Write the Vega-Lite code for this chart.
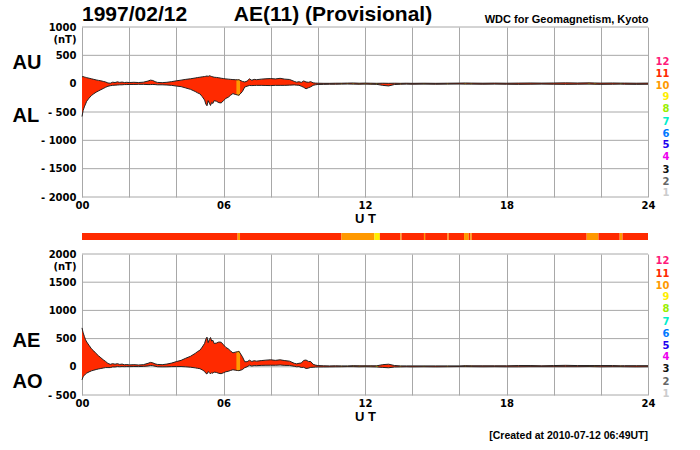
{
  "$schema": "https://vega.github.io/schema/vega-lite/v6.json",
  "background": "white",
  "padding": {"left": 12, "top": 4, "right": 5, "bottom": 5},
  "config": {
    "view": {"stroke": null},
    "font": "Liberation Sans",
    "axis": {"labelFont": "DejaVu Sans", "labelFontWeight": "bold", "labelFontSize": 10, "labelColor": "#000", "labelOverlap": false, "ticks": false, "domain": false, "gridColor": "#a8a8a8", "gridWidth": 1, "gridOpacity": 1, "titleFont": "Liberation Sans", "titleFontWeight": "bold", "titleColor": "#000"}
  },
  "datasets": {
    "ae": [
      {"t":0,"AU":120,"AL":-580,"AE":690,"AO":-230,"n":11},
      {"t":0.05,"AU":125,"AL":-470,"AE":600,"AO":-175,"n":11},
      {"t":0.1,"AU":118,"AL":-410,"AE":540,"AO":-150,"n":11},
      {"t":0.15,"AU":112,"AL":-360,"AE":480,"AO":-128,"n":11},
      {"t":0.2,"AU":106,"AL":-310,"AE":440,"AO":-112,"n":11},
      {"t":0.3,"AU":96,"AL":-255,"AE":380,"AO":-90,"n":11},
      {"t":0.4,"AU":86,"AL":-210,"AE":320,"AO":-72,"n":11},
      {"t":0.5,"AU":76,"AL":-178,"AE":280,"AO":-60,"n":11},
      {"t":0.6,"AU":66,"AL":-150,"AE":235,"AO":-48,"n":11},
      {"t":0.7,"AU":58,"AL":-128,"AE":195,"AO":-38,"n":11},
      {"t":0.8,"AU":50,"AL":-106,"AE":160,"AO":-30,"n":11},
      {"t":0.9,"AU":40,"AL":-86,"AE":125,"AO":-22,"n":11},
      {"t":1.0,"AU":30,"AL":-64,"AE":95,"AO":-14,"n":11},
      {"t":1.1,"AU":12,"AL":-46,"AE":60,"AO":-14,"n":11},
      {"t":1.2,"AU":8,"AL":-36,"AE":44,"AO":-14,"n":11},
      {"t":1.3,"AU":26,"AL":-30,"AE":56,"AO":-2,"n":11},
      {"t":1.4,"AU":20,"AL":-26,"AE":46,"AO":-3,"n":11},
      {"t":1.5,"AU":32,"AL":-24,"AE":56,"AO":4,"n":11},
      {"t":1.6,"AU":22,"AL":-20,"AE":42,"AO":1,"n":11},
      {"t":1.7,"AU":28,"AL":-20,"AE":48,"AO":4,"n":11},
      {"t":1.8,"AU":20,"AL":-16,"AE":36,"AO":2,"n":11},
      {"t":1.9,"AU":24,"AL":-16,"AE":40,"AO":4,"n":11},
      {"t":2.0,"AU":20,"AL":-14,"AE":34,"AO":3,"n":11},
      {"t":2.2,"AU":24,"AL":-14,"AE":38,"AO":5,"n":11},
      {"t":2.4,"AU":20,"AL":-12,"AE":32,"AO":4,"n":11},
      {"t":2.6,"AU":26,"AL":-12,"AE":38,"AO":7,"n":11},
      {"t":2.8,"AU":46,"AL":-16,"AE":62,"AO":15,"n":11},
      {"t":2.9,"AU":62,"AL":-16,"AE":78,"AO":23,"n":11},
      {"t":3.0,"AU":56,"AL":-14,"AE":70,"AO":21,"n":11},
      {"t":3.1,"AU":36,"AL":-16,"AE":52,"AO":10,"n":11},
      {"t":3.2,"AU":22,"AL":-20,"AE":42,"AO":1,"n":11},
      {"t":3.4,"AU":18,"AL":-20,"AE":38,"AO":-1,"n":11},
      {"t":3.6,"AU":24,"AL":-24,"AE":48,"AO":0,"n":11},
      {"t":3.8,"AU":36,"AL":-30,"AE":66,"AO":3,"n":11},
      {"t":4.0,"AU":50,"AL":-42,"AE":92,"AO":4,"n":11},
      {"t":4.2,"AU":62,"AL":-52,"AE":114,"AO":5,"n":11},
      {"t":4.4,"AU":76,"AL":-76,"AE":152,"AO":0,"n":11},
      {"t":4.6,"AU":86,"AL":-100,"AE":186,"AO":-7,"n":11},
      {"t":4.8,"AU":100,"AL":-138,"AE":238,"AO":-19,"n":11},
      {"t":4.9,"AU":108,"AL":-162,"AE":270,"AO":-27,"n":11},
      {"t":5.0,"AU":114,"AL":-180,"AE":294,"AO":-33,"n":11},
      {"t":5.1,"AU":120,"AL":-230,"AE":350,"AO":-55,"n":11},
      {"t":5.2,"AU":126,"AL":-290,"AE":416,"AO":-82,"n":11},
      {"t":5.25,"AU":130,"AL":-360,"AE":490,"AO":-115,"n":11},
      {"t":5.3,"AU":136,"AL":-390,"AE":526,"AO":-127,"n":11},
      {"t":5.35,"AU":128,"AL":-300,"AE":428,"AO":-86,"n":11},
      {"t":5.4,"AU":140,"AL":-345,"AE":485,"AO":-103,"n":11},
      {"t":5.45,"AU":134,"AL":-385,"AE":519,"AO":-126,"n":11},
      {"t":5.5,"AU":126,"AL":-330,"AE":456,"AO":-102,"n":11},
      {"t":5.55,"AU":120,"AL":-350,"AE":470,"AO":-115,"n":11},
      {"t":5.6,"AU":114,"AL":-300,"AE":414,"AO":-93,"n":11},
      {"t":5.7,"AU":110,"AL":-310,"AE":420,"AO":-100,"n":11},
      {"t":5.8,"AU":104,"AL":-335,"AE":439,"AO":-116,"n":11},
      {"t":5.9,"AU":96,"AL":-340,"AE":436,"AO":-122,"n":11},
      {"t":6.0,"AU":90,"AL":-300,"AE":390,"AO":-105,"n":11},
      {"t":6.1,"AU":84,"AL":-260,"AE":344,"AO":-88,"n":11},
      {"t":6.2,"AU":80,"AL":-240,"AE":320,"AO":-80,"n":11},
      {"t":6.3,"AU":76,"AL":-205,"AE":281,"AO":-65,"n":11},
      {"t":6.4,"AU":72,"AL":-175,"AE":247,"AO":-52,"n":11},
      {"t":6.5,"AU":70,"AL":-190,"AE":260,"AO":-60,"n":11},
      {"t":6.6,"AU":68,"AL":-200,"AE":268,"AO":-66,"n":10},
      {"t":6.65,"AU":70,"AL":-205,"AE":275,"AO":-68,"n":10},
      {"t":6.7,"AU":60,"AL":-185,"AE":245,"AO":-63,"n":11},
      {"t":6.8,"AU":40,"AL":-140,"AE":180,"AO":-50,"n":11},
      {"t":6.9,"AU":30,"AL":-60,"AE":90,"AO":-15,"n":11},
      {"t":7.0,"AU":45,"AL":-45,"AE":90,"AO":0,"n":11},
      {"t":7.1,"AU":85,"AL":-32,"AE":117,"AO":27,"n":11},
      {"t":7.2,"AU":60,"AL":-34,"AE":94,"AO":13,"n":11},
      {"t":7.3,"AU":76,"AL":-32,"AE":108,"AO":22,"n":11},
      {"t":7.4,"AU":70,"AL":-30,"AE":100,"AO":20,"n":11},
      {"t":7.6,"AU":80,"AL":-30,"AE":110,"AO":25,"n":11},
      {"t":7.8,"AU":86,"AL":-32,"AE":118,"AO":27,"n":11},
      {"t":8.0,"AU":90,"AL":-34,"AE":124,"AO":28,"n":11},
      {"t":8.2,"AU":84,"AL":-30,"AE":114,"AO":27,"n":11},
      {"t":8.4,"AU":94,"AL":-30,"AE":124,"AO":32,"n":11},
      {"t":8.6,"AU":80,"AL":-30,"AE":110,"AO":25,"n":11},
      {"t":8.8,"AU":74,"AL":-26,"AE":100,"AO":24,"n":11},
      {"t":9.0,"AU":40,"AL":-22,"AE":62,"AO":9,"n":11},
      {"t":9.1,"AU":26,"AL":-26,"AE":52,"AO":0,"n":11},
      {"t":9.2,"AU":34,"AL":-28,"AE":62,"AO":3,"n":11},
      {"t":9.3,"AU":22,"AL":-45,"AE":67,"AO":-12,"n":11},
      {"t":9.4,"AU":48,"AL":-65,"AE":113,"AO":-9,"n":11},
      {"t":9.5,"AU":30,"AL":-90,"AE":120,"AO":-30,"n":11},
      {"t":9.6,"AU":24,"AL":-72,"AE":96,"AO":-24,"n":11},
      {"t":9.7,"AU":36,"AL":-56,"AE":92,"AO":-10,"n":11},
      {"t":9.8,"AU":14,"AL":-30,"AE":44,"AO":-8,"n":11},
      {"t":9.9,"AU":10,"AL":-20,"AE":30,"AO":-5,"n":11},
      {"t":10.0,"AU":8,"AL":-14,"AE":22,"AO":-3,"n":11},
      {"t":10.25,"AU":6,"AL":-12,"AE":18,"AO":-3,"n":11},
      {"t":10.5,"AU":6,"AL":-10,"AE":16,"AO":-2,"n":11},
      {"t":10.75,"AU":8,"AL":-10,"AE":18,"AO":-1,"n":11},
      {"t":11.0,"AU":8,"AL":-8,"AE":16,"AO":0,"n":10},
      {"t":11.25,"AU":10,"AL":-6,"AE":16,"AO":2,"n":10},
      {"t":11.5,"AU":12,"AL":-8,"AE":20,"AO":2,"n":10},
      {"t":11.75,"AU":8,"AL":-10,"AE":18,"AO":-1,"n":10},
      {"t":12.0,"AU":10,"AL":-8,"AE":18,"AO":1,"n":10},
      {"t":12.25,"AU":8,"AL":-10,"AE":18,"AO":-1,"n":10},
      {"t":12.5,"AU":6,"AL":-12,"AE":18,"AO":-3,"n":9},
      {"t":12.75,"AU":8,"AL":-30,"AE":38,"AO":-11,"n":11},
      {"t":13.0,"AU":6,"AL":-40,"AE":46,"AO":-17,"n":11},
      {"t":13.25,"AU":8,"AL":-15,"AE":23,"AO":-4,"n":11},
      {"t":13.5,"AU":6,"AL":-10,"AE":16,"AO":-2,"n":10},
      {"t":13.75,"AU":8,"AL":-8,"AE":16,"AO":0,"n":11},
      {"t":14.0,"AU":6,"AL":-10,"AE":16,"AO":-2,"n":11},
      {"t":14.5,"AU":8,"AL":-8,"AE":16,"AO":0,"n":10},
      {"t":15.0,"AU":6,"AL":-10,"AE":16,"AO":-2,"n":11},
      {"t":15.5,"AU":8,"AL":-8,"AE":16,"AO":0,"n":10},
      {"t":16.0,"AU":10,"AL":-6,"AE":16,"AO":2,"n":11},
      {"t":16.25,"AU":12,"AL":-8,"AE":20,"AO":2,"n":10},
      {"t":16.5,"AU":10,"AL":-8,"AE":18,"AO":1,"n":10},
      {"t":17.0,"AU":8,"AL":-10,"AE":18,"AO":-1,"n":11},
      {"t":17.5,"AU":10,"AL":-8,"AE":18,"AO":1,"n":11},
      {"t":18.0,"AU":8,"AL":-10,"AE":18,"AO":-1,"n":11},
      {"t":18.5,"AU":10,"AL":-12,"AE":22,"AO":-1,"n":11},
      {"t":19.0,"AU":12,"AL":-10,"AE":22,"AO":1,"n":11},
      {"t":19.5,"AU":10,"AL":-8,"AE":18,"AO":1,"n":11},
      {"t":20.0,"AU":12,"AL":-10,"AE":22,"AO":1,"n":11},
      {"t":20.5,"AU":14,"AL":-12,"AE":26,"AO":1,"n":11},
      {"t":21.0,"AU":12,"AL":-10,"AE":22,"AO":1,"n":11},
      {"t":21.5,"AU":14,"AL":-8,"AE":22,"AO":3,"n":10},
      {"t":21.75,"AU":12,"AL":-10,"AE":22,"AO":1,"n":10},
      {"t":22.0,"AU":10,"AL":-12,"AE":22,"AO":-1,"n":11},
      {"t":22.5,"AU":12,"AL":-10,"AE":22,"AO":1,"n":11},
      {"t":22.85,"AU":10,"AL":-8,"AE":18,"AO":1,"n":10},
      {"t":23.0,"AU":10,"AL":-10,"AE":20,"AO":0,"n":11},
      {"t":23.5,"AU":8,"AL":-12,"AE":20,"AO":-2,"n":11},
      {"t":24.0,"AU":10,"AL":-10,"AE":20,"AO":0,"n":11}
    ],
    "seg": [
      {"s":0,"e":6.6,"n":11},{"s":6.6,"e":6.7,"n":10},{"s":6.7,"e":11.0,"n":11},
      {"s":11.0,"e":12.4,"n":10},{"s":12.4,"e":12.63,"n":9},{"s":12.63,"e":13.5,"n":11},
      {"s":13.5,"e":13.55,"n":10},{"s":13.55,"e":14.5,"n":11},{"s":14.5,"e":14.55,"n":10},
      {"s":14.55,"e":15.5,"n":11},{"s":15.5,"e":15.55,"n":10},{"s":15.55,"e":16.2,"n":11},
      {"s":16.2,"e":16.4,"n":10},{"s":16.4,"e":16.47,"n":11},{"s":16.47,"e":16.53,"n":10},
      {"s":16.53,"e":21.4,"n":11},{"s":21.4,"e":21.9,"n":10},{"s":21.9,"e":22.8,"n":11},
      {"s":22.8,"e":22.92,"n":10},{"s":22.92,"e":24,"n":11}
    ],
    "g1": [{"g":-2000},{"g":-1500},{"g":-1000},{"g":-500},{"g":0},{"g":500},{"g":1000}],
    "g2": [{"g":-500},{"g":0},{"g":500},{"g":1000},{"g":1500},{"g":2000}]
  },
  "bounds": "flush",
  "spacing": 36,
  "vconcat": [
    {
      "width": 566, "height": 170,
      "title": {"text": "1997/02/12\u00a0\u00a0\u00a0\u00a0\u00a0\u00a0\u00a0\u00a0AE(11) (Provisional)", "anchor": "start", "frame": "group", "fontSize": 21, "fontWeight": "bold", "font": "Liberation Sans", "color": "#000", "offset": -12},
      "layer": [
        {"data": {"name": "g1"}, "mark": {"type": "rule", "color": "#a8a8a8", "strokeWidth": 1},
         "encoding": {"y": {"field": "g", "type": "quantitative", "scale": {"domain": [-2000, 1000], "nice": false, "zero": false}, "axis": null}}},
        {"data": {"name": "ae"}, "mark": {"type": "area", "color": "#ff2a00", "opacity": 1},
         "encoding": {
           "x": {"field": "t", "type": "quantitative", "scale": {"domain": [0, 24], "nice": false, "zero": false},
                 "axis": {"values": [0,2,4,6,8,10,12,14,16,18,20,22,24], "grid": true, "labelOverlap": false, "labelFlush": false, "labelPadding": 3, "labelExpr": "datum.value % 6 == 0 ? (datum.value < 10 ? '0' + datum.value : '' + datum.value) : ''", "title": "U T", "titleFontSize": 13, "titlePadding": 2}},
           "y": {"field": "AU", "type": "quantitative", "scale": {"domain": [-2000, 1000], "nice": false, "zero": false},
                 "axis": {"orient": "left", "values": [-2000,-1500,-1000,-500,0,500,1000], "grid": false, "labelOverlap": false, "labelPadding": 6, "labelExpr": "datum.value == 1000 ? ['1000','(nT)'] : (datum.value < 0 ? '- ' + abs(datum.value) : '' + datum.value)", "title": ["AU", "AL"], "titleAngle": 0, "titleAlign": "left", "titleBaseline": "middle", "titleX": -70, "titleY": 35, "titleLineHeight": 53, "titleFontSize": 20}},
           "y2": {"field": "AL"}}},
        {"data": {"name": "ae"}, "transform": [{"filter": "datum.n != 11"}], "mark": {"type": "rule", "strokeWidth": 2.5},
         "encoding": {"x": {"field": "t", "type": "quantitative", "axis": null}, "y": {"field": "AU", "type": "quantitative", "axis": null}, "y2": {"field": "AL"},
           "color": {"field": "n", "type": "ordinal", "legend": null, "scale": {"domain": [12,11,10,9,8,7,6,5,4,3,2,1], "range": ["#ff1a7a","#ff2a00","#ff9900","#ffee00","#99ee00","#00eecc","#0077ff","#2200ee","#ee00ee","#111111","#666666","#cccccc"]}}}},
        {"data": {"name": "ae"}, "mark": {"type": "line", "color": "#222", "strokeWidth": 1},
         "encoding": {"x": {"field": "t", "type": "quantitative", "axis": null}, "y": {"field": "AL", "type": "quantitative", "axis": null}}},
        {"data": {"name": "ae"}, "mark": {"type": "line", "color": "#222", "strokeWidth": 1},
         "encoding": {
           "x": {"field": "t", "type": "quantitative",
                 "axis": {"orient": "top", "labels": false, "grid": false, "title": "WDC for Geomagnetism, Kyoto", "titleAnchor": "end", "titleFontSize": 11, "titlePadding": 3}},
           "y": {"field": "AU", "type": "quantitative",
                 "axis": {"orient": "right", "title": null, "grid": false, "labelOverlap": false, "labelAlign": "right", "labelPadding": 21,
                          "values": [400, 188, -24, -235, -447, -659, -871, -1082, -1294, -1506, -1718, -1929],
                          "labelExpr": "'' + round(12 - (400 - datum.value) / 211.8)",
                          "labelColor": {"condition": [
                            {"test": "datum.value > 300", "value": "#ff1a7a"},
                            {"test": "datum.value > 100", "value": "#ff2a00"},
                            {"test": "datum.value > -100", "value": "#ff9900"},
                            {"test": "datum.value > -300", "value": "#ffee00"},
                            {"test": "datum.value > -500", "value": "#99ee00"},
                            {"test": "datum.value > -700", "value": "#00eecc"},
                            {"test": "datum.value > -900", "value": "#0077ff"},
                            {"test": "datum.value > -1100", "value": "#2200ee"},
                            {"test": "datum.value > -1400", "value": "#ee00ee"},
                            {"test": "datum.value > -1600", "value": "#111111"},
                            {"test": "datum.value > -1800", "value": "#666666"}], "value": "#cccccc"}}}}}
      ],
      "resolve": {"axis": {"x": "independent", "y": "independent"}}
    },
    {
      "bounds": "flush",
      "spacing": 14,
      "vconcat": [
        {"width": 566, "height": 7, "data": {"name": "seg"}, "mark": {"type": "rect"},
         "encoding": {
           "x": {"field": "s", "type": "quantitative", "scale": {"domain": [0, 24], "nice": false, "zero": false}, "axis": null},
           "x2": {"field": "e"},
           "color": {"field": "n", "type": "ordinal", "legend": null, "scale": {"domain": [12,11,10,9,8,7,6,5,4,3,2,1], "range": ["#ff1a7a","#ff2a00","#ff9900","#ffee00","#99ee00","#00eecc","#0077ff","#2200ee","#ee00ee","#111111","#666666","#cccccc"]}}}},
        {
          "width": 566, "height": 141,
          "title": {"text": "[Created at 2010-07-12 06:49UT]", "orient": "bottom", "anchor": "end", "frame": "group", "fontSize": 10.5, "fontWeight": "bold", "font": "Liberation Sans", "color": "#000", "offset": 8},
          "layer": [
            {"data": {"name": "g2"}, "mark": {"type": "rule", "color": "#a8a8a8", "strokeWidth": 1},
             "encoding": {"y": {"field": "g", "type": "quantitative", "scale": {"domain": [-500, 2000], "nice": false, "zero": false}, "axis": null}}},
            {"data": {"name": "ae"}, "mark": {"type": "area", "color": "#ff2a00", "opacity": 1},
             "encoding": {
               "x": {"field": "t", "type": "quantitative", "scale": {"domain": [0, 24], "nice": false, "zero": false},
                     "axis": {"values": [0,2,4,6,8,10,12,14,16,18,20,22,24], "grid": true, "labelOverlap": false, "labelFlush": false, "labelPadding": 3, "labelExpr": "datum.value % 6 == 0 ? (datum.value < 10 ? '0' + datum.value : '' + datum.value) : ''", "title": "U T", "titleFontSize": 13, "titlePadding": 2}},
               "y": {"field": "AE", "type": "quantitative", "scale": {"domain": [-500, 2000], "nice": false, "zero": false},
                     "axis": {"orient": "left", "values": [-500,0,500,1000,1500,2000], "grid": false, "labelOverlap": false, "labelPadding": 6, "labelExpr": "datum.value == 2000 ? ['2000','(nT)'] : (datum.value < 0 ? '- ' + abs(datum.value) : '' + datum.value)", "title": ["AE", "AO"], "titleAngle": 0, "titleAlign": "left", "titleBaseline": "middle", "titleX": -70, "titleY": 86, "titleLineHeight": 41, "titleFontSize": 20}},
               "y2": {"field": "AO"}}},
            {"data": {"name": "ae"}, "transform": [{"filter": "datum.n != 11"}], "mark": {"type": "rule", "strokeWidth": 2.5},
             "encoding": {"x": {"field": "t", "type": "quantitative", "axis": null}, "y": {"field": "AE", "type": "quantitative", "axis": null}, "y2": {"field": "AO"},
               "color": {"field": "n", "type": "ordinal", "legend": null, "scale": {"domain": [12,11,10,9,8,7,6,5,4,3,2,1], "range": ["#ff1a7a","#ff2a00","#ff9900","#ffee00","#99ee00","#00eecc","#0077ff","#2200ee","#ee00ee","#111111","#666666","#cccccc"]}}}},
            {"data": {"name": "ae"}, "mark": {"type": "line", "color": "#222", "strokeWidth": 1},
             "encoding": {"x": {"field": "t", "type": "quantitative", "axis": null}, "y": {"field": "AO", "type": "quantitative", "axis": null}}},
            {"data": {"name": "ae"}, "mark": {"type": "line", "color": "#222", "strokeWidth": 1},
             "encoding": {
               "x": {"field": "t", "type": "quantitative", "axis": null},
               "y": {"field": "AE", "type": "quantitative",
                     "axis": {"orient": "right", "title": null, "grid": false, "labelOverlap": false, "labelAlign": "right", "labelPadding": 21,
                              "values": [1876, 1663, 1450, 1238, 1025, 812, 599, 386, 174, -39, -252, -465],
                              "labelExpr": "'' + round(12 - (1876 - datum.value) / 212.8)",
                              "labelColor": {"condition": [
                                {"test": "datum.value > 1770", "value": "#ff1a7a"},
                                {"test": "datum.value > 1550", "value": "#ff2a00"},
                                {"test": "datum.value > 1350", "value": "#ff9900"},
                                {"test": "datum.value > 1130", "value": "#ffee00"},
                                {"test": "datum.value > 920", "value": "#99ee00"},
                                {"test": "datum.value > 700", "value": "#00eecc"},
                                {"test": "datum.value > 490", "value": "#0077ff"},
                                {"test": "datum.value > 280", "value": "#2200ee"},
                                {"test": "datum.value > 70", "value": "#ee00ee"},
                                {"test": "datum.value > -140", "value": "#111111"},
                                {"test": "datum.value > -350", "value": "#666666"}], "value": "#cccccc"}}}}}
          ],
          "resolve": {"axis": {"x": "independent", "y": "independent"}}
        }
      ]
    }
  ]
}
